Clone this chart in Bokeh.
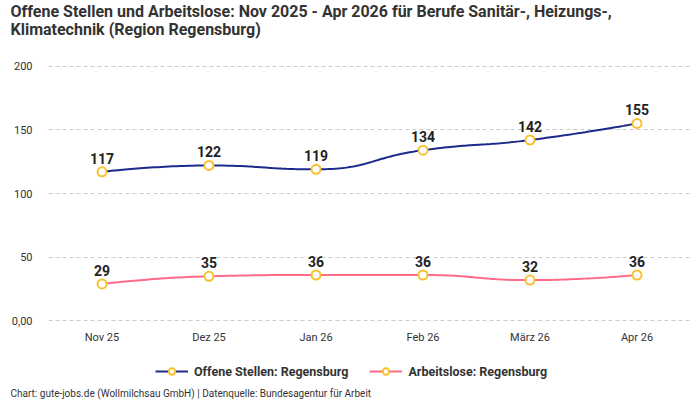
import math
import numpy as np
from bokeh.plotting import figure
from bokeh.layouts import column
from bokeh.models import (ColumnDataSource, FixedTicker, Legend, LegendItem,
                          Label, Range1d)
from bokeh.core.properties import value
from bokeh.embed import file_html
from bokeh.resources import INLINE

# --- data -----------------------------------------------------------------
months = ["Nov 25", "Dez 25", "Jan 26", "Feb 26", "März 26", "Apr 26"]
offene_stellen = [117, 122, 119, 134, 142, 155]
arbeitslose = [29, 35, 36, 36, 32, 36]
y_ticks = [0, 50, 100, 150, 200]
y_tick_labels = ["0,00", "50", "100", "150", "200"]

series_names = ["Offene Stellen: Regensburg", "Arbeitslose: Regensburg"]

TITLE_LINES = ["Offene Stellen und Arbeitslose: Nov 2025 - Apr 2026 für Berufe Sanitär-, Heizungs-,",
               "Klimatechnik (Region Regensburg)"]
FOOTER = "Chart: gute-jobs.de (Wollmilchsau GmbH) | Datenquelle: Bundesagentur für Arbeit"

FONT = "Roboto"
BLUE = "#1b2a8c"
PINK = "#ff6b86"
MARKER = "#f8c12c"
TEXT = "#333333"
SERIES_COLORS = [BLUE, PINK]


def smooth_curve(xs, ys, sx, sy, smooth=0.5, samples=40):
    """Bezier smoothing with per-segment clamping, done in pixel-proportional space."""
    px = [x * sx for x in xs]
    py = [y * sy for y in ys]
    n = len(px)
    out_x, out_y = [px[0]], [py[0]]
    cp0x, cp0y = px[0], py[0]
    for i in range(1, n):
        x, y = px[i], py[i]
        prevx, prevy = px[i - 1], py[i - 1]
        if i == n - 1:
            cp1x, cp1y = x, y
            ncp0x, ncp0y = x, y
        else:
            nx, ny = px[i + 1], py[i + 1]
            vx, vy = nx - prevx, ny - prevy
            lp = math.hypot(x - prevx, y - prevy)
            ln = math.hypot(nx - x, ny - y)
            r = ln / (ln + lp)
            ncp0x = x + vx * smooth * r
            ncp0y = y + vy * smooth * r
            ncp0x = max(min(ncp0x, max(nx, x)), min(nx, x))
            ncp0y = max(min(ncp0y, max(ny, y)), min(ny, y))
            vx, vy = ncp0x - x, ncp0y - y
            cp1x = x - vx * lp / ln
            cp1y = y - vy * lp / ln
            cp1x = max(min(cp1x, max(prevx, x)), min(prevx, x))
            cp1y = max(min(cp1y, max(prevy, y)), min(prevy, y))
            vx, vy = x - cp1x, y - cp1y
            ncp0x = x + vx * ln / lp
            ncp0y = y + vy * ln / lp
        t = np.linspace(0, 1, samples)[1:]
        bx = ((1 - t) ** 3 * prevx + 3 * (1 - t) ** 2 * t * cp0x
              + 3 * (1 - t) * t ** 2 * cp1x + t ** 3 * x)
        by = ((1 - t) ** 3 * prevy + 3 * (1 - t) ** 2 * t * cp0y
              + 3 * (1 - t) * t ** 2 * cp1y + t ** 3 * y)
        out_x.extend(bx)
        out_y.extend(by)
        cp0x, cp0y = ncp0x, ncp0y
    return [v / sx for v in out_x], [v / sy for v in out_y]


def blank_strip(height):
    """A frame-only strip (no axes/grid) used for the heading and the legend/footer."""
    f = figure(width=700, height=height, output_backend="svg",
               toolbar_location=None, x_range=Range1d(0, 1), y_range=Range1d(0, 1),
               x_axis_location=None, y_axis_location=None, min_border=0,
               title=None, frame_align=False)
    f.grid.visible = False
    f.outline_line_color = None
    f.border_fill_color = "white"
    f.background_fill_color = "white"
    return f


# --- heading ----------------------------------------------------------------
head = blank_strip(40)
for text, y in zip(TITLE_LINES, [29, 11]):
    head.add_layout(Label(x=10, y=y, x_units="screen", y_units="screen",
                          text=text, text_font=FONT, text_font_size="16px",
                          text_font_style="bold", text_color=TEXT,
                          text_baseline="middle"))

# --- main chart ---------------------------------------------------------------
p = figure(width=700, height=320, output_backend="svg", toolbar_location=None,
           x_range=Range1d(-0.5, len(months) - 0.5),
           y_range=Range1d(-0.5, 200.5),
           min_border_left=48, min_border_right=10, min_border_top=25,
           min_border_bottom=39, title=None, frame_align=False)
p.outline_line_color = None
p.background_fill_color = "white"
p.border_fill_color = "white"

xs = list(range(len(months)))
p.xaxis.ticker = FixedTicker(ticks=xs)
p.xaxis.major_label_overrides = {i: m for i, m in enumerate(months)}
p.yaxis.ticker = FixedTicker(ticks=y_ticks)
p.yaxis.major_label_overrides = {t: l for t, l in zip(y_ticks, y_tick_labels)}
for ax in (p.xaxis, p.yaxis):
    ax.axis_line_color = None
    ax.major_tick_line_color = None
    ax.minor_tick_line_color = None
    ax.major_label_text_font = FONT
    ax.major_label_text_font_size = "11px"
    ax.major_label_text_color = TEXT
p.xaxis.major_label_standoff = 3
p.yaxis.major_label_standoff = 10

p.xgrid.grid_line_color = None
p.ygrid.grid_line_color = "#cccccc"
p.ygrid.grid_line_dash = "4 3"

# sx/sy: approximate pixels per data unit on each axis
SX, SY = 107.0, 1.28
for vals, color in zip([offene_stellen, arbeitslose], SERIES_COLORS):
    cx, cy = smooth_curve(xs, vals, SX, SY)
    p.line(cx, cy, line_color=color, line_width=2)
    src = ColumnDataSource(dict(x=xs, y=vals, label=[str(v) for v in vals]))
    p.scatter("x", "y", source=src, size=9, fill_color="white",
              line_color=MARKER, line_width=2)
    p.text("x", "y", text="label", source=src, y_offset=-8,
           text_align="center", text_baseline="bottom",
           text_font=value(FONT), text_font_size="14px",
           text_font_style="bold", text_color="#222222")

# --- legend + source note -----------------------------------------------------
# The strip's 0..1 ranges keep the series themselves out of view; only their
# legend glyphs are shown.
foot = blank_strip(40)
items = []
for name, vals, color in zip(series_names, [offene_stellen, arbeitslose], SERIES_COLORS):
    ln = foot.line(xs, vals, line_color=color, line_width=2)
    sc = foot.scatter(xs, vals, size=10, fill_color="white",
                      line_color=MARKER, line_width=2)
    items.append(LegendItem(label=name, renderers=[ln, sc]))
legend = Legend(items=items, orientation="horizontal", location=(155, 21),
                label_text_font=FONT, label_text_font_size="12.5px",
                label_text_font_style="bold", label_text_color=TEXT,
                glyph_width=33, glyph_height=16, label_standoff=6,
                spacing=21, border_line_color=None,
                background_fill_alpha=0, padding=0, margin=0)
foot.add_layout(legend, "center")
foot.add_layout(Label(x=10, y=7, x_units="screen", y_units="screen",
                      text=FOOTER, text_font=FONT, text_font_size="10px",
                      text_color=TEXT, text_baseline="middle"))

layout = column(head, p, foot, spacing=0)
open("out.html", "w").write(file_html(layout, INLINE))
